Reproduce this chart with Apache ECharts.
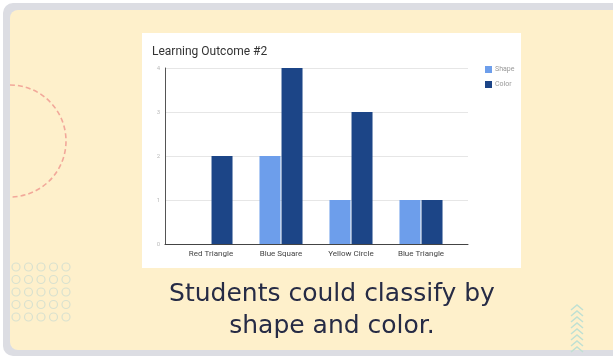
<!DOCTYPE html>
<html>
<head>
<meta charset="utf-8">
<script src="https://cdn.jsdelivr.net/npm/echarts@6/dist/echarts.min.js"></script>
<style>
html,body{margin:0;padding:0;background:#fff;}
#c{width:613px;height:358px;}
</style>
</head>
<body>
<div id="c"></div>
<script>
const categories = ['Red Triangle', 'Blue Square', 'Yellow Circle', 'Blue Triangle'];
const shapeValues = [0, 2, 1, 1];
const colorValues = [2, 4, 3, 1];
const seriesNames = ['Shape', 'Color'];
const yTicks = [0, 1, 2, 3, 4];
const chartTitle = 'Learning Outcome #2';
const captionLines = ['Students could classify by', 'shape and color.'];

const chart = echarts.init(document.getElementById('c'), null, {renderer: 'canvas'});

const deco = [];
// outer frame
deco.push({type:'rect', z:-100, shape:{x:3,y:3,width:640,height:353,r:10}, style:{fill:'#dcdde3'}});
// cream panel
deco.push({type:'rect', z:-99, shape:{x:10,y:10,width:640,height:340,r:8}, style:{fill:'#fef0cb'}});
// dashed arc
deco.push({type:'arc', z:-98, shape:{cx:10,cy:141,r:56,startAngle:-Math.PI/2,endAngle:Math.PI/2}, style:{stroke:'#f2a89a',lineWidth:1.6,lineDash:[5,3],fill:null}});
// dots grid
for (let i=0;i<5;i++){ for (let j=0;j<5;j++){
  deco.push({type:'circle', z:-98, shape:{cx:16+i*12.5, cy:267+j*12.5, r:4}, style:{stroke:'#d9e1cf', lineWidth:1.2, fill:null}});
}}
// chevrons
for (let k=0;k<8;k++){
  const y = 305 + k*6;
  deco.push({type:'polyline', z:-98, shape:{points:[[571,y+5],[577,y],[583,y+5]]}, style:{stroke:'#bfe0d3', lineWidth:1.5, fill:null}});
}
// white chart box
deco.push({type:'rect', z:-97, shape:{x:142,y:33,width:379,height:235}, style:{fill:'#ffffff'}});
// caption
deco.push({type:'text', z:10, x:332, y:294, style:{text:captionLines[0], font:'25px "DejaVu Sans"', fill:'#262b45', align:'center', verticalAlign:'middle'}});
deco.push({type:'text', z:10, x:332, y:326, style:{text:captionLines[1], font:'25px "DejaVu Sans"', fill:'#262b45', align:'center', verticalAlign:'middle'}});

const option = {
  animation: false,
  backgroundColor: 'transparent',
  title: {text: chartTitle, left: 147, top: 41, textStyle: {fontFamily: 'Roboto', fontSize: 12, fontWeight: 'normal', color: '#333'}},
  legend: {
    data: seriesNames, orient: 'vertical', left: 480, top: 61, itemWidth: 7, itemHeight: 7, itemGap: 8,
    icon: 'rect', textStyle: {fontFamily: 'Roboto', fontSize: 7, color: '#999', padding:[0,0,0,-2]}
  },
  graphic: {elements: deco},
  grid: [
    {left: 165, right: 145, top: 68, bottom: 114, containLabel: false},
    {left: 176, right: 157, top: 68, bottom: 114, containLabel: false}
  ],
  xAxis: [
    {gridIndex: 0, type: 'value', min: 0, max: 1, axisLabel: {show: false}, axisTick: {show: false}, splitLine: {show: false},
     axisLine: {show: true, lineStyle: {color: '#444', width: 1}}},
    {gridIndex: 1, type: 'category', data: categories, axisLine: {show: false}, axisTick: {show: false},
     axisLabel: {fontFamily: 'Roboto', fontSize: 8, color: '#444', margin: 6}}
  ],
  yAxis: [
    {gridIndex: 0, type: 'value', min: yTicks[0], max: yTicks[yTicks.length-1], interval: 1,
     axisLine: {show: true, lineStyle: {color: '#555', width: 1}}, axisTick: {show: false},
     axisLabel: {fontFamily: 'Roboto', fontSize: 6, color: '#bbb', margin: 5},
     splitLine: {show: true, lineStyle: {color: '#e6e6e6', width: 1}}},
    {gridIndex: 1, type: 'value', min: yTicks[0], max: yTicks[yTicks.length-1], interval: 1, show: false}
  ],
  series: [
    {name: seriesNames[0], type: 'bar', xAxisIndex: 1, yAxisIndex: 1, data: shapeValues, barWidth: 21, barGap: '5%', itemStyle: {color: '#6d9eeb'}},
    {name: seriesNames[1], type: 'bar', xAxisIndex: 1, yAxisIndex: 1, data: colorValues, barWidth: 21, barGap: '5%', itemStyle: {color: '#1c4587'}}
  ]
};
chart.setOption(option);
</script>
</body>
</html>
